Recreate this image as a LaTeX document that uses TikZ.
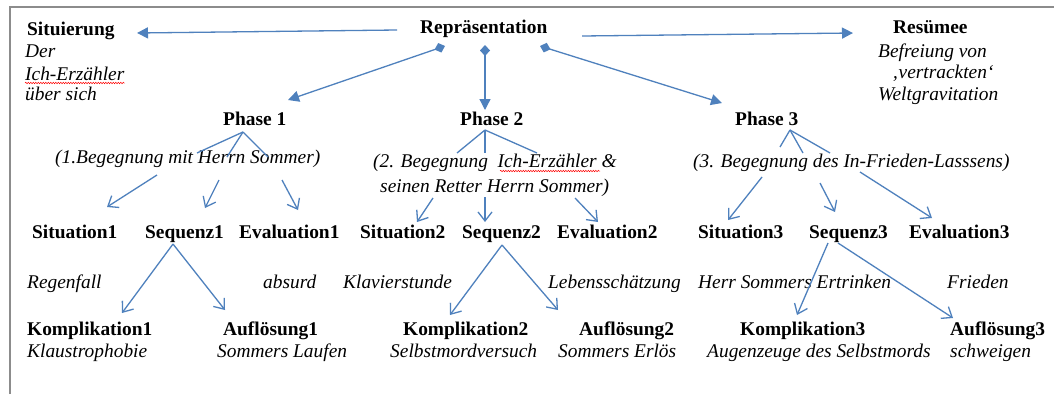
\documentclass[tikz,border=0pt]{standalone}
\usepackage{fontspec}
\setmainfont{Liberation Serif}
\usetikzlibrary{arrows.meta,decorations.pathmorphing}
\definecolor{arrowblue}{RGB}{79,129,189}
\definecolor{framegray}{RGB}{140,140,140}
\newcommand\dsize{\fontsize{19.4}{22}\selectfont}
\begin{document}
\begin{tikzpicture}[x=1pt,y=-1pt,
  bt/.style={font=\dsize\bfseries, inner sep=0pt, anchor=base west},
  it/.style={font=\dsize\itshape, inner sep=0pt, anchor=base west},
  conn/.style={draw=arrowblue, line width=1.3pt},
  tri/.style={conn, -{Triangle[length=11pt,width=11pt]}},
  dtri/.style={conn, {Diamond[length=11pt,width=10pt]}-{Triangle[length=11pt,width=11pt]}},
  barb/.style={conn, -{Straight Barb[length=9pt,width=14pt]}},
  squig/.style={draw=red, line width=0.5pt, decorate, decoration={snake, amplitude=0.7pt, segment length=2.5pt}}
]
\useasboundingbox (0,0) rectangle (1054,394);
\fill[white] (0,0) rectangle (1054,394);
% frame
\draw[framegray, line width=1.3pt] (10,394) -- (10,7) -- (1054,7);

% top row
\node[bt] (sit) at (27,35) {Situierung};
\node[it] (der) at (25,57) {Der};
\node[it] (ich) at (25,80) {Ich-Erzähler};
\node[it] (ueb) at (25,100) {über sich};
\node[bt] (rep) at (420,33) {Repräsentation};
\node[bt] (res) at (893,33) {Resümee};
\node[it] (bef) at (878,57) {Befreiung von};
\node[it] (ver) at (892,78) {‚vertrackten‘};
\node[it] (wel) at (878,100) {Weltgravitation};

% phases
\node[bt] (p1) at (223,125) {Phase 1};
\node[bt] (p2) at (460,125) {Phase 2};
\node[bt] (p3) at (735,125) {Phase 3};

% encounters
\node[it] (b1) at (55,163) {(1.Begegnung mit Herrn Sommer)};
\node[it] (b2a) at (373,167) {(2. Begegnung\ \ Ich-Erzähler \&};
\node[it] (b2b) at (380,192) {seinen Retter Herrn Sommer)};
\node[it] (b3) at (693,167) {(3. Begegnung des In-Frieden-Lasssens)};

% level 3
\node[bt] (s1) at (32,238) {Situation1};
\node[bt] (q1) at (145,238) {Sequenz1};
\node[bt] (e1) at (239,238) {Evaluation1};
\node[bt] (s2) at (360,238) {Situation2};
\node[bt] (q2) at (462,238) {Sequenz2};
\node[bt] (e2) at (557,238) {Evaluation2};
\node[bt] (s3) at (698,238) {Situation3};
\node[bt] (q3) at (809,238) {Sequenz3};
\node[bt] (e3) at (909,238) {Evaluation3};

% labels
\node[it] (reg) at (27,288) {Regenfall};
\node[it] (abs) at (263,288) {absurd};
\node[it] (kla) at (343,288) {Klavierstunde};
\node[it] (leb) at (548,288) {Lebensschätzung};
\node[it] (her) at (698,288) {Herr Sommers Ertrinken};
\node[it] (fri) at (947,288) {Frieden};

% bottom
\node[bt] (k1) at (27,335) {Komplikation1};
\node[it] (kl1) at (27,357) {Klaustrophobie};
\node[bt] (a1) at (223,335) {Auflösung1};
\node[it] (sl1) at (217,357) {Sommers Laufen};
\node[bt] (k2) at (403,335) {Komplikation2};
\node[it] (sv2) at (390,357) {Selbstmordversuch};
\node[bt] (a2) at (579,335) {Auflösung2};
\node[it] (se2) at (558,357) {Sommers Erlös};
\node[bt] (k3) at (740,335) {Komplikation3};
\node[it] (au3) at (707,357) {Augenzeuge des Selbstmords};
\node[bt] (a3) at (950,335) {Auflösung3};
\node[it] (sw3) at (950,357) {schweigen};

% squiggles
\draw[squig] ([shift={(0,3)}]ich.base west) -- ([shift={(0,3)}]ich.base east);
\draw[squig] ([shift={(127,4)}]b2a.base west) -- ([shift={(227,4)}]b2a.base west);

% top connectors
\draw[tri] ([shift={(-23,-3)}]rep.base west) -- ([shift={(110,-2)}]sit.base west);
\draw[dtri] ([shift={(25,13)}]rep.base west) -- ([shift={(65,-25)}]p1.base west);
\draw[dtri] ([shift={(65,12)}]rep.base west) -- ([shift={(25,-15)}]p2.base west);
\draw[dtri] ([shift={(120,13)}]rep.base west) -- ([shift={(-13,-22)}]p3.base west);
\draw[tri] ([shift={(162,3)}]rep.base west) -- ([shift={(-40,0)}]res.base west);

% phase 1
\coordinate (ap1) at ([shift={(20,7)}]p1.base west);
\draw[conn] (ap1) -- ([shift={(142,-10)}]b1.base west);
\draw[conn] (ap1) -- ([shift={(172,-6)}]b1.base west);
\draw[conn] (ap1) -- ([shift={(213,-6)}]b1.base west);
\draw[barb] ([shift={(102,12)}]b1.base west) -- ([shift={(75,-31)}]s1.base west);
\draw[barb] ([shift={(164,17)}]b1.base west) -- ([shift={(60,-30)}]q1.base west);
\draw[barb] ([shift={(227,17)}]b1.base west) -- ([shift={(59,-28)}]e1.base west);

% phase 2
\coordinate (ap2) at ([shift={(25,5)}]p2.base west);
\draw[conn] (ap2) -- ([shift={(84,-14)}]b2a.base west);
\draw[conn] (ap2) -- ([shift={(112,-14)}]b2a.base west);
\draw[conn] (ap2) -- ([shift={(164,-14)}]b2a.base west);
\draw[barb] ([shift={(53,6)}]b2b.base west) -- ([shift={(57,-16)}]s2.base west);
\draw[barb] ([shift={(105,5)}]b2b.base west) -- ([shift={(23,-16)}]q2.base west);
\draw[barb] ([shift={(195,6)}]b2b.base west) -- ([shift={(41,-16)}]e2.base west);

% phase 3
\coordinate (ap3) at ([shift={(55,5)}]p3.base west);
\draw[conn] (ap3) -- ([shift={(87,-20)}]b3.base west);
\draw[conn] (ap3) -- ([shift={(110,-14)}]b3.base west);
\draw[conn] (ap3) -- ([shift={(137,-14)}]b3.base west);
\draw[barb] ([shift={(69,10)}]b3.base west) -- ([shift={(30,-18)}]s3.base west);
\draw[barb] ([shift={(127,16)}]b3.base west) -- ([shift={(26,-26)}]q3.base west);
\draw[barb] ([shift={(167,5)}]b3.base west) -- ([shift={(23,-20)}]e3.base west);

% sequences
\coordinate (aq1) at ([shift={(28,6)}]q1.base west);
\draw[barb] (aq1) -- ([shift={(95,-22)}]k1.base west);
\draw[barb] (aq1) -- ([shift={(2,-25)}]a1.base west);
\coordinate (aq2) at ([shift={(40,7)}]q2.base west);
\draw[barb] (aq2) -- ([shift={(47,-20)}]k2.base west);
\draw[barb] (aq2) -- ([shift={(-21,-25)}]a2.base west);
\draw[barb] ([shift={(19,5)}]q3.base west) -- ([shift={(57,-20)}]k3.base west);
\draw[barb] ([shift={(29,5)}]q3.base west) -- ([shift={(3,-17)}]a3.base west);
\end{tikzpicture}
\end{document}
